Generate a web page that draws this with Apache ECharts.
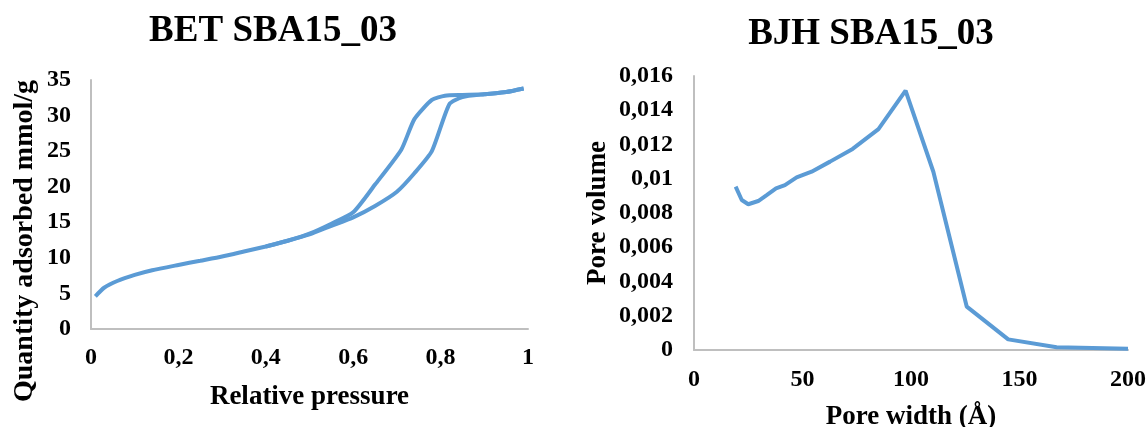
<!DOCTYPE html>
<html>
<head>
<meta charset="utf-8">
<script src="https://cdn.jsdelivr.net/npm/echarts@6/dist/echarts.min.js"></script>
<style>
  html, body { margin: 0; padding: 0; background: #fff; }
  #chart { width: 1147px; height: 427px; }
</style>
</head>
<body>
<div id="chart"></div>
<script>
// BET isotherm: relative pressure vs quantity adsorbed (mmol/g)
const adsPressure = [0.01, 0.03, 0.06, 0.10, 0.14, 0.20, 0.25, 0.30, 0.35, 0.40, 0.45, 0.50, 0.55, 0.60, 0.65, 0.70, 0.74, 0.78, 0.82, 0.85, 0.90, 0.95, 0.99];
const adsQuantity = [4.6, 5.8, 6.75, 7.6, 8.25, 9.0, 9.6, 10.2, 10.9, 11.6, 12.4, 13.3, 14.5, 15.7, 17.3, 19.3, 21.9, 25.0, 31.6, 32.6, 33.0, 33.3, 33.8];
const desPressure = [0.99, 0.95, 0.90, 0.85, 0.81, 0.78, 0.74, 0.71, 0.65, 0.60, 0.55, 0.50, 0.45, 0.40];
const desQuantity = [33.8, 33.3, 33.0, 32.9, 32.8, 32.2, 29.5, 25.2, 20.3, 16.4, 14.8, 13.4, 12.4, 11.6];

// BJH pore size distribution: pore width (Å) vs pore volume
const poreWidth  = [19.2, 22.0, 25.0, 29.6, 33.5, 37.8, 41.9, 47.3, 54.2, 62.7, 73.1, 85.0, 97.5, 110.3, 125.7, 144.8, 167.1, 200];
const poreVolume = [0.00954, 0.00876, 0.00851, 0.0087, 0.00905, 0.00944, 0.00963, 0.01008, 0.01041, 0.0110, 0.01174, 0.0129, 0.01515, 0.01041, 0.00253, 0.00062, 0.00016, 0.00008];

// Axis tick labels use comma decimals
const fmtComma = v => String(+v.toFixed(4)).replace('.', ',');

const FONT = '"Liberation Serif", "Times New Roman", serif';
const LINE = '#5b9bd5';
const AXIS = '#bfbfbf';

const tickText = { color: '#000', fontFamily: FONT, fontWeight: 'bold', fontSize: 24 };
const nameText = { color: '#000', fontFamily: FONT, fontWeight: 'bold', fontSize: 27 };

function axisBase() {
  return {
    type: 'value',
    axisLine: { show: true, lineStyle: { color: AXIS, width: 2 } },
    axisTick: { show: false },
    splitLine: { show: false }
  };
}

const chart = echarts.init(document.getElementById('chart'), null, { renderer: 'canvas' });

chart.setOption({
  backgroundColor: '#fff',
  animation: false,
  title: [
    { text: 'BET SBA15_03', left: 268, top: 8, textAlign: 'center',
      textStyle: { color: '#000', fontFamily: FONT, fontWeight: 'bold', fontSize: 37 } },
    { text: 'BJH SBA15_03', left: 866, top: 11, textAlign: 'center',
      textStyle: { color: '#000', fontFamily: FONT, fontWeight: 'bold', fontSize: 37 } }
  ],
  grid: [
    { left: 91, right: 619, top: 80, bottom: 98, outerBoundsMode: 'none', containLabel: false },
    { left: 694, right: 19, top: 76, bottom: 77, outerBoundsMode: 'none', containLabel: false }
  ],
  xAxis: [
    Object.assign(axisBase(), {
      gridIndex: 0, min: 0, max: 1, interval: 0.2,
      name: 'Relative pressure', nameLocation: 'middle', nameGap: 55,
      nameTextStyle: nameText,
      axisLabel: Object.assign({ margin: 17, formatter: fmtComma }, tickText)
    }),
    Object.assign(axisBase(), {
      gridIndex: 1, min: 0, max: 200, interval: 50,
      name: 'Pore width (Å)', nameLocation: 'middle', nameGap: 54,
      nameTextStyle: nameText,
      axisLabel: Object.assign({ margin: 18 }, tickText)
    })
  ],
  yAxis: [
    Object.assign(axisBase(), {
      gridIndex: 0, min: 0, max: 35, interval: 5,
      axisLabel: Object.assign({ margin: 20 }, tickText)
    }),
    Object.assign(axisBase(), {
      gridIndex: 1, min: 0, max: 0.016, interval: 0.002,
      name: 'Pore volume', nameLocation: 'middle', nameGap: 82,
      nameTextStyle: nameText,
      axisLabel: Object.assign({ margin: 21, formatter: fmtComma }, tickText)
    })
  ],
  graphic: [
    {
      type: 'text', x: 25, y: 241, rotation: Math.PI / 2,
      style: {
        text: 'Quantity adsorbed mmol/g',
        fill: '#000', font: 'bold 28px ' + FONT,
        textAlign: 'center', textVerticalAlign: 'middle'
      }
    }
  ],
  series: [
    {
      name: 'Adsorption', type: 'line', xAxisIndex: 0, yAxisIndex: 0,
      data: adsPressure.map((p, i) => [p, adsQuantity[i]]),
      showSymbol: false, smooth: 0.2,
      lineStyle: { color: LINE, width: 4 }
    },
    {
      name: 'Desorption', type: 'line', xAxisIndex: 0, yAxisIndex: 0,
      data: desPressure.map((p, i) => [p, desQuantity[i]]),
      showSymbol: false, smooth: 0.2,
      lineStyle: { color: LINE, width: 4 }
    },
    {
      name: 'BJH', type: 'line', xAxisIndex: 1, yAxisIndex: 1,
      data: poreWidth.map((w, i) => [w, poreVolume[i]]),
      showSymbol: false,
      lineStyle: { color: LINE, width: 4 }
    }
  ]
});
</script>
</body>
</html>
